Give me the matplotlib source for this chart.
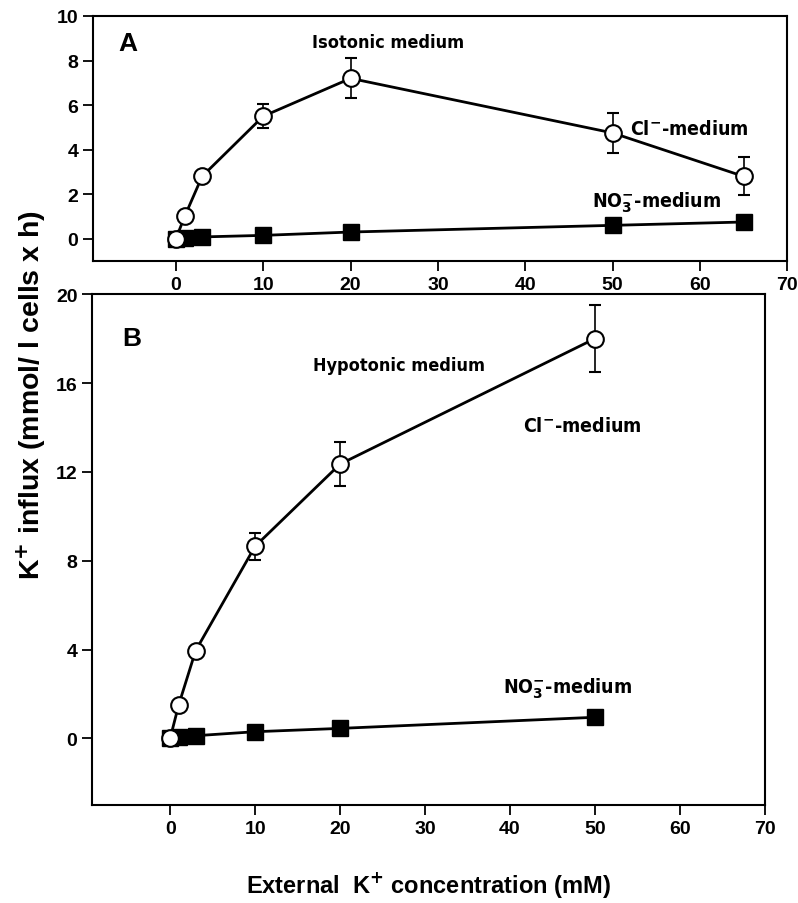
import numpy as np
import matplotlib.pyplot as plt

plt.rcParams['font.family'] = ['Liberation Sans', 'DejaVu Sans']
plt.rcParams['font.weight'] = 'bold'

# [Panel A - isotonic medium]
xa_cl = [0, 1, 3, 10, 20, 50, 65]
ya_cl = [0, 1.0, 2.8, 5.5, 7.2, 4.75, 2.8]
ea_cl = [0, 0, 0, 0.55, 0.9, 0.9, 0.85]
xa_no3 = [0, 1, 3, 10, 20, 50, 65]
ya_no3 = [0, 0.02, 0.08, 0.15, 0.3, 0.6, 0.75]

# [Panel B - hypotonic medium]
xb_cl = [0, 1, 3, 10, 20, 50]
yb_cl = [0, 1.5, 3.95, 8.65, 12.35, 18.0]
eb_cl = [0, 0, 0, 0.6, 1.0, 1.5]
xb_no3 = [0, 1, 3, 10, 20, 50]
yb_no3 = [0, 0.05, 0.12, 0.3, 0.45, 0.95]

xticks = [0, 10, 20, 30, 40, 50, 60, 70]
yticks_a = [0, 2, 4, 6, 8, 10]
yticks_b = [0, 4, 8, 12, 16, 20]

narrow = dict(family='DejaVu Sans', fontstretch='condensed', fontweight='bold')

fig = plt.figure(figsize=(7.98, 9.04), dpi=100)
axA = fig.add_axes([0.1165, 0.7102, 0.870, 0.271])
axB = fig.add_axes([0.1153, 0.1084, 0.843, 0.565])


def draw(ax, x_no3, y_no3, x_cl, y_cl, e_cl):
    ax.plot(x_no3, y_no3, '-s', color='black', lw=2, ms=11, mfc='black', zorder=2)
    ax.errorbar(x_cl, y_cl, yerr=e_cl, fmt='-o', color='black', lw=2, ms=12,
                mfc='white', mec='black', mew=1.5, ecolor='black', elinewidth=1.2,
                capsize=4, zorder=3)
    ax.set_xticks(xticks)
    ax.tick_params(direction='out', length=7, width=1.3, labelsize=14)
    for s in ax.spines.values():
        s.set_linewidth(1.5)


draw(axA, xa_no3, ya_no3, xa_cl, ya_cl, ea_cl)
axA.set_xlim(-9.5, 70)
axA.set_ylim(-1, 10)
axA.set_yticks(yticks_a)
axA.text(0.036, 0.86, 'A', transform=axA.transAxes, fontsize=19, fontweight='bold')
axA.text(24.3, 8.84, 'Isotonic medium', ha='center', va='center', fontsize=13, **narrow)
axA.text(52, 4.95, 'Cl$^{\\mathbf{-}}$-medium', va='center', fontsize=14, **narrow)
axA.text(47.7, 1.65, 'NO$_{\\mathbf{3}}^{\\mathbf{-}}$-medium', va='center', fontsize=14, **narrow)

draw(axB, xb_no3, yb_no3, xb_cl, yb_cl, eb_cl)
axB.set_xlim(-9.2, 70)
axB.set_ylim(-3, 20)
axB.set_yticks(yticks_b)
axB.text(0.045, 0.9, 'B', transform=axB.transAxes, fontsize=19, fontweight='bold')
axB.text(27, 16.8, 'Hypotonic medium', ha='center', va='center', fontsize=13, **narrow)
axB.text(41.5, 14.1, 'Cl$^{\\mathbf{-}}$-medium', va='center', fontsize=14, **narrow)
axB.text(39.2, 2.3, 'NO$_{\\mathbf{3}}^{\\mathbf{-}}$-medium', va='center', fontsize=14, **narrow)

fig.text(0.537, 0.021, 'External  K$^{\\mathbf{+}}$ concentration (mM)', ha='center',
         va='center', fontsize=17, fontweight='bold')
fig.text(0.039, 0.563, 'K$^{\\mathbf{+}}$ influx (mmol/ l cells x h)', rotation=90,
         ha='center', va='center', fontsize=20.5, fontweight='bold')

plt.savefig('out.png', dpi=100)
